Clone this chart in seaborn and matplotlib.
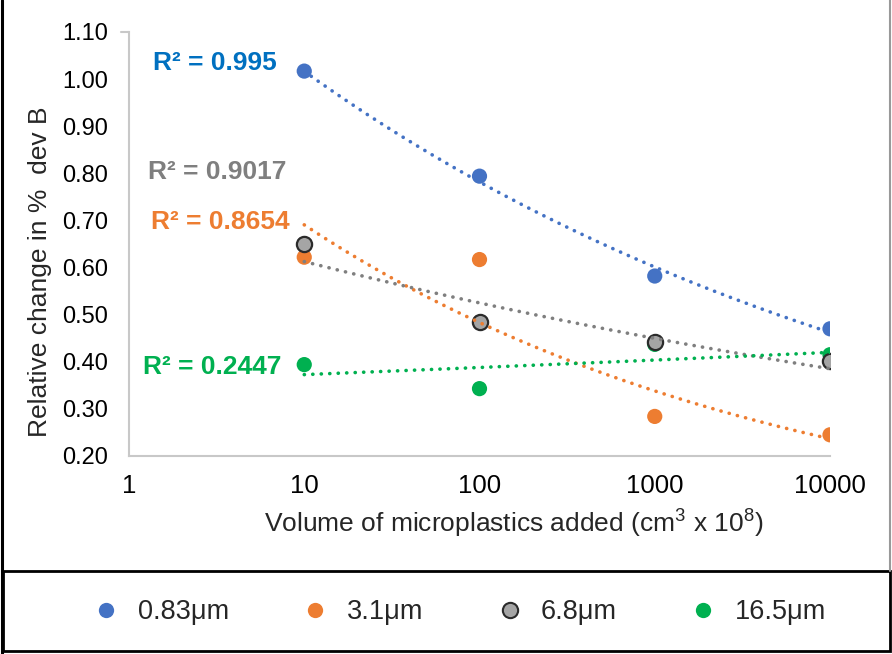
import numpy as np
import pandas as pd
import matplotlib
matplotlib.use("Agg")
import matplotlib.pyplot as plt
import seaborn as sns
from matplotlib.patches import Rectangle
from matplotlib.lines import Line2D

# data
volume = [10, 100, 1000, 10000]
series = ["0.83\u03bcm", "3.1\u03bcm", "6.8\u03bcm", "16.5\u03bcm"]
vals_083 = [1.017, 0.794, 0.582, 0.470]
vals_31 = [0.622, 0.617, 0.284, 0.245]
vals_68 = [0.651, 0.484, 0.441, 0.401]
vals_165 = [0.394, 0.343, 0.437, 0.415]
r2_labels = ["R\u00b2 = 0.995", "R\u00b2 = 0.8654", "R\u00b2 = 0.9017", "R\u00b2 = 0.2447"]

marker_colors = ["#4472C4", "#ED7D31", "#A5A5A5", "#00B050"]
line_colors = ["#4472C4", "#ED7D31", "#7F7F7F", "#00B050"]
text_colors = ["#0070C0", "#ED7D31", "#7F7F7F", "#00B050"]

sns.set_style("white")
plt.rcParams["font.family"] = ["Liberation Sans", "DejaVu Sans"]
plt.rcParams["mathtext.fontset"] = "custom"
plt.rcParams["mathtext.rm"] = "Liberation Sans"

df = pd.DataFrame({
    "volume": volume * 4,
    "value": vals_083 + vals_31 + vals_68 + vals_165,
    "size": np.repeat(series, 4),
})

W, H = 892, 654
fig = plt.figure(figsize=(W / 100, H / 100), dpi=100)
ax = fig.add_axes([129 / W, 1 - 456 / H, (830 - 129) / W, (456 - 32) / H])

sns.scatterplot(data=df, x="volume", y="value", hue="size", hue_order=series,
                palette=marker_colors, s=120, linewidth=0, ax=ax, zorder=2,
                legend=True)
# outline only the grey markers
grey = df[df["size"] == series[2]]
ax.scatter(grey["volume"], grey["value"], s=120, facecolor=marker_colors[2],
           edgecolor="#2b2b2b", linewidth=1.6, zorder=2.1)

# power trendlines (fit in log-log space, like Excel)
xs = np.logspace(1, 4, 200)
for vals, col in zip([vals_083, vals_31, vals_68, vals_165], line_colors):
    b, a = np.polyfit(np.log10(volume), np.log10(vals), 1)
    ax.plot(xs, 10 ** (a + b * np.log10(xs)), color=col, lw=2.6,
            linestyle=(0, (0.05, 2.3)), dash_capstyle="round", zorder=3)

ax.set_xscale("log")
ax.set_xlim(1, 10000)
ax.set_ylim(0.20, 1.10)
ax.set_xticks([1, 10, 100, 1000, 10000])
ax.set_xticklabels(["1", "10", "100", "1000", "10000"])
ax.set_yticks(np.arange(0.2, 1.101, 0.1))
ax.set_yticklabels([f"{v:.2f}" for v in np.arange(0.2, 1.101, 0.1)])
ax.minorticks_off()
ax.tick_params(axis="both", length=0, colors="#000000")
ax.tick_params(axis="x", labelsize=18.5, pad=13)
ax.tick_params(axis="y", labelsize=17, pad=15)
for side in ["top", "right"]:
    ax.spines[side].set_visible(False)
for side in ["left", "bottom"]:
    ax.spines[side].set_color("#C8C8C8")
    ax.spines[side].set_linewidth(1.5)
# small hook at the top of the y axis
ax.plot([0, -0.011], [1.0, 1.0], transform=ax.transAxes, color="#C8C8C8",
        lw=1.5, clip_on=False)

ax.set_xlabel(r"Volume of microplastics added (cm$^\mathrm{3}$ x 10$^\mathrm{8}$)",
              fontsize=19)
ax.set_ylabel("Relative change in %  dev B", fontsize=19)
ax.xaxis.set_label_coords((514 - 129) / 701, -(523 - 456) / 424)
ax.yaxis.set_label_coords((40 - 129) / 701, (456 - 272) / 424)
ax.xaxis.label.set_va("center")
ax.yaxis.label.set_va("center")

# R² annotations
r2_pos = [(153, 63), (151, 222), (148, 172), (143, 367)]
for lab, (px, py), col in zip(r2_labels, r2_pos, text_colors):
    fig.text(px / W, 1 - py / H, lab, color=col, fontsize=19,
             fontweight="bold", ha="left", va="center")

# legend in its own box below
handles, labels = ax.get_legend_handles_labels()
ax.get_legend().remove()
for h in handles:
    h.set_markersize(11)
handles[2].set_markeredgecolor("#2b2b2b")
handles[2].set_markeredgewidth(1.5)
fig.legend(handles, labels, ncol=4, loc="center", frameon=False,
           bbox_to_anchor=(0.515, 1 - 612 / H), fontsize=19.5,
           columnspacing=2.7, handletextpad=0.65, handlelength=1.0)

# frames
fig.add_artist(Line2D([2 / W, 2 / W], [0, 1], color="black", lw=2.2))
fig.add_artist(Line2D([890 / W, 890 / W], [1 - 571 / H, 1], color="#999999", lw=1.5))
fig.patches.append(Rectangle((3 / W, 1 - 651 / H), 887 / W, 80 / H,
                             transform=fig.transFigure, fill=False,
                             edgecolor="black", lw=2))

fig.savefig("out.png", dpi=100)
